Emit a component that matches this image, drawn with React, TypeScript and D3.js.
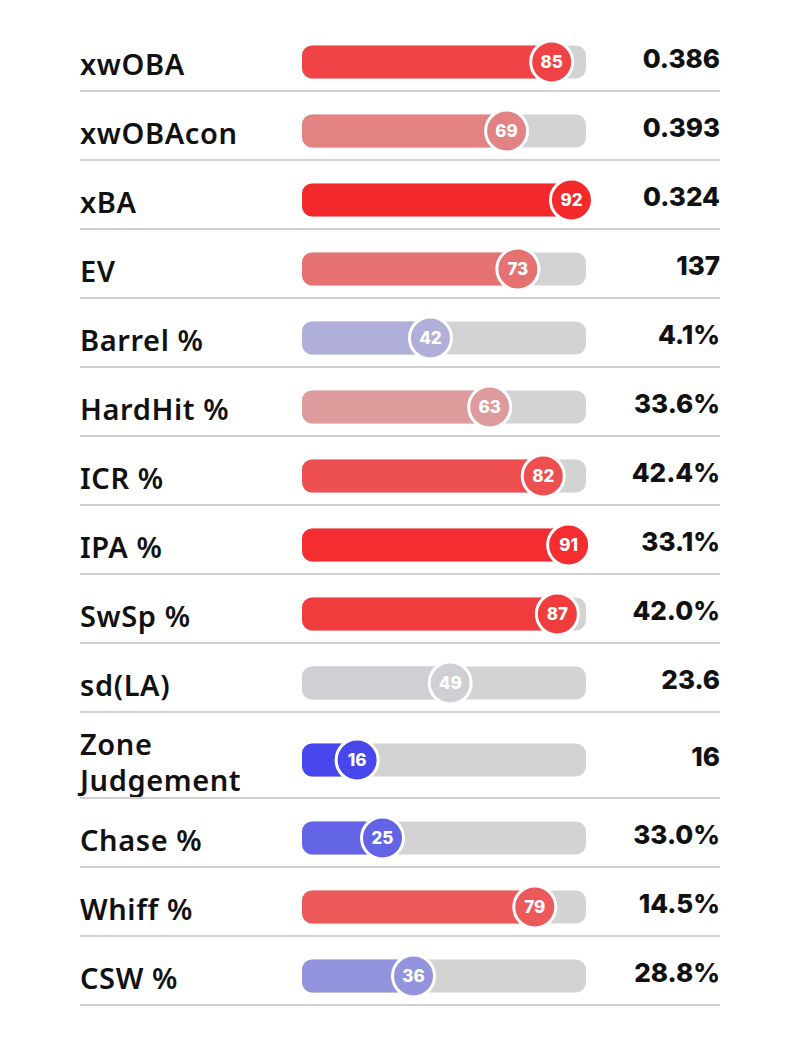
import * as d3 from "d3";

const metrics = [
  "xwOBA",
  "xwOBAcon",
  "xBA",
  "EV",
  "Barrel %",
  "HardHit %",
  "ICR %",
  "IPA %",
  "SwSp %",
  "sd(LA)",
  "Zone\nJudgement",
  "Chase %",
  "Whiff %",
  "CSW %",
];
const percentiles = [85, 69, 92, 73, 42, 63, 82, 91, 87, 49, 16, 25, 79, 36];
const values = [
  "0.386",
  "0.393",
  "0.324",
  "137",
  "4.1%",
  "33.6%",
  "42.4%",
  "33.1%",
  "42.0%",
  "23.6",
  "16",
  "33.0%",
  "14.5%",
  "28.8%",
];

const width = 800;
const height = 1046;
const left = 80;
const right = 720;
const barX0 = 302;
const barX1 = 586;
const barH = 33;
const rowH = 69;
const rowH2 = 86;
const top = 22;

const color = d3
  .scaleLinear<string>()
  .domain([0, 25, 50, 75, 100])
  .range(["#1414f8", "#6363e6", "#d3d3d3", "#e86868", "#fa0c10"])
  .interpolate(d3.interpolateRgb);

// circle centre follows the percentile
const x = d3.scaleLinear().domain([0, 100]).range([312, 594]);

export default function App() {
  let acc = top;
  const rows = metrics.map((m, i) => {
    const lines = m.split("\n");
    const h = lines.length > 1 ? rowH2 : rowH;
    const y0 = acc;
    acc += h;
    return { label: lines, pct: percentiles[i], value: values[i], y0, h };
  });

  return (
    <svg
      width={width}
      height={height}
      style={{ position: "absolute", left: 0, top: 0, background: "#fff" }}
    >
      {rows.map((r, i) => {
        const cy = r.y0 + r.h - (r.label.length > 1 ? 38 : 29);
        const fill = color(r.pct);
        return (
          <g key={i}>
            {r.label.map((t, j) => (
              <text
                key={j}
                x={left}
                y={cy + 13 + (j - (r.label.length - 1) / 2) * 36}
                fontFamily="'Noto Sans', sans-serif"
                fontWeight={600}
                fontSize={29}
                letterSpacing={0.6}
                fill="#111"
              >
                {t}
              </text>
            ))}
            <rect
              x={barX0}
              y={cy - barH / 2}
              width={barX1 - barX0}
              height={barH}
              rx={10}
              fill="#d3d3d3"
            />
            <rect
              x={barX0}
              y={cy - barH / 2}
              width={x(r.pct) - barX0}
              height={barH}
              rx={10}
              fill={fill}
            />
            <circle cx={x(r.pct)} cy={cy} r={21} fill={fill} stroke="#fff" strokeWidth={3} />
            <text
              x={x(r.pct)}
              y={cy + 6}
              textAnchor="middle"
              fontFamily="Inter, sans-serif"
              fontWeight={800}
              fontSize={17}
              fill="#fff"
            >
              {r.pct}
            </text>
            <text
              x={right}
              y={cy + 6}
              textAnchor="end"
              fontFamily="Inter, sans-serif"
              fontWeight={800}
              fontSize={26}
              fill="#111"
            >
              {r.value}
            </text>
            <line
              x1={left}
              x2={right}
              y1={r.y0 + r.h}
              y2={r.y0 + r.h}
              stroke="#d0d0d0"
              strokeWidth={2}
            />
          </g>
        );
      })}
    </svg>
  );
}
